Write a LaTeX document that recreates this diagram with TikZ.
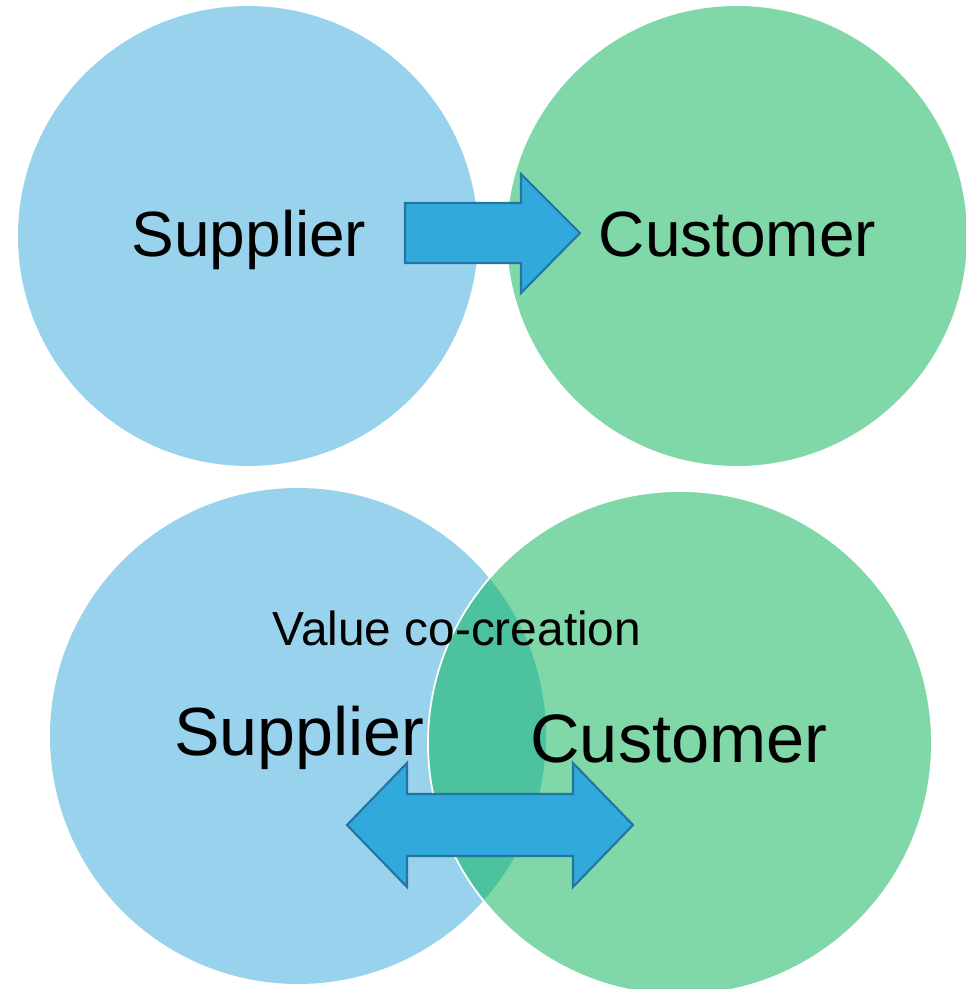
\documentclass[tikz,border=0pt]{standalone}
\usepackage{fontspec}
\setmainfont{Liberation Sans}
\usepackage{xcolor}
\usepackage{tikz}

\definecolor{suppblue}{HTML}{98D2EC}
\definecolor{custgreen}{HTML}{80D7A8}
\definecolor{overlapgreen}{HTML}{4CC29F}
\definecolor{arrowfill}{HTML}{32A9DC}
\definecolor{arrowline}{HTML}{2276A0}

\begin{document}
\begin{tikzpicture}
	\useasboundingbox (0,0) rectangle (9.66,9.89);
	% one-way exchange
	\fill[suppblue] (2.48,7.53) circle (2.30cm);
	\fill[custgreen] (7.37,7.53) circle (2.30cm);
	\filldraw[color=arrowline, line width=0.6pt, fill=arrowfill] (4.05,7.86) -- (5.21,7.86) -- (5.21,8.15) -- (5.80,7.56) -- (5.21,6.96) -- (5.21,7.26) -- (4.05,7.26) -- cycle;
	\node[anchor=base, inner sep=0, font=\fontsize{18.2}{20}\selectfont] (suppA) at (2.49,7.32) {Supplier};
	\node[anchor=base, inner sep=0, font=\fontsize{18.2}{20}\selectfont] (custA) at (7.375,7.33) {Customer};
	% co-creation
	\fill[suppblue] (2.98,2.53) circle (2.48cm);
	\fill[custgreen] (6.80,2.46) circle (2.52cm);
	\begin{scope}
		\clip (2.98,2.53) circle (2.48cm);
		\fill[overlapgreen] (6.80,2.46) circle (2.52cm);
	\end{scope}
	\draw[white, line width=0.5pt] (6.80,2.46) circle (2.52cm);
	\filldraw[color=arrowline, line width=0.6pt, fill=arrowfill] (3.47,1.64) -- (4.07,2.26) -- (4.07,1.95) -- (5.73,1.95) -- (5.73,2.26) -- (6.33,1.64) -- (5.73,1.02) -- (5.73,1.33) -- (4.07,1.33) -- (4.07,1.02) -- cycle;
	\node[anchor=base, inner sep=0, font=\fontsize{13.6}{15}\selectfont] (cocreate) at (4.57,3.44) {Value co-creation};
	\node[anchor=base, inner sep=0, font=\fontsize{19.4}{21}\selectfont] (suppB) at (2.995,2.34) {Supplier};
	\node[anchor=base, inner sep=0, font=\fontsize{19.5}{21}\selectfont] (custB) at (6.79,2.26) {Customer};
\end{tikzpicture}
\end{document}
